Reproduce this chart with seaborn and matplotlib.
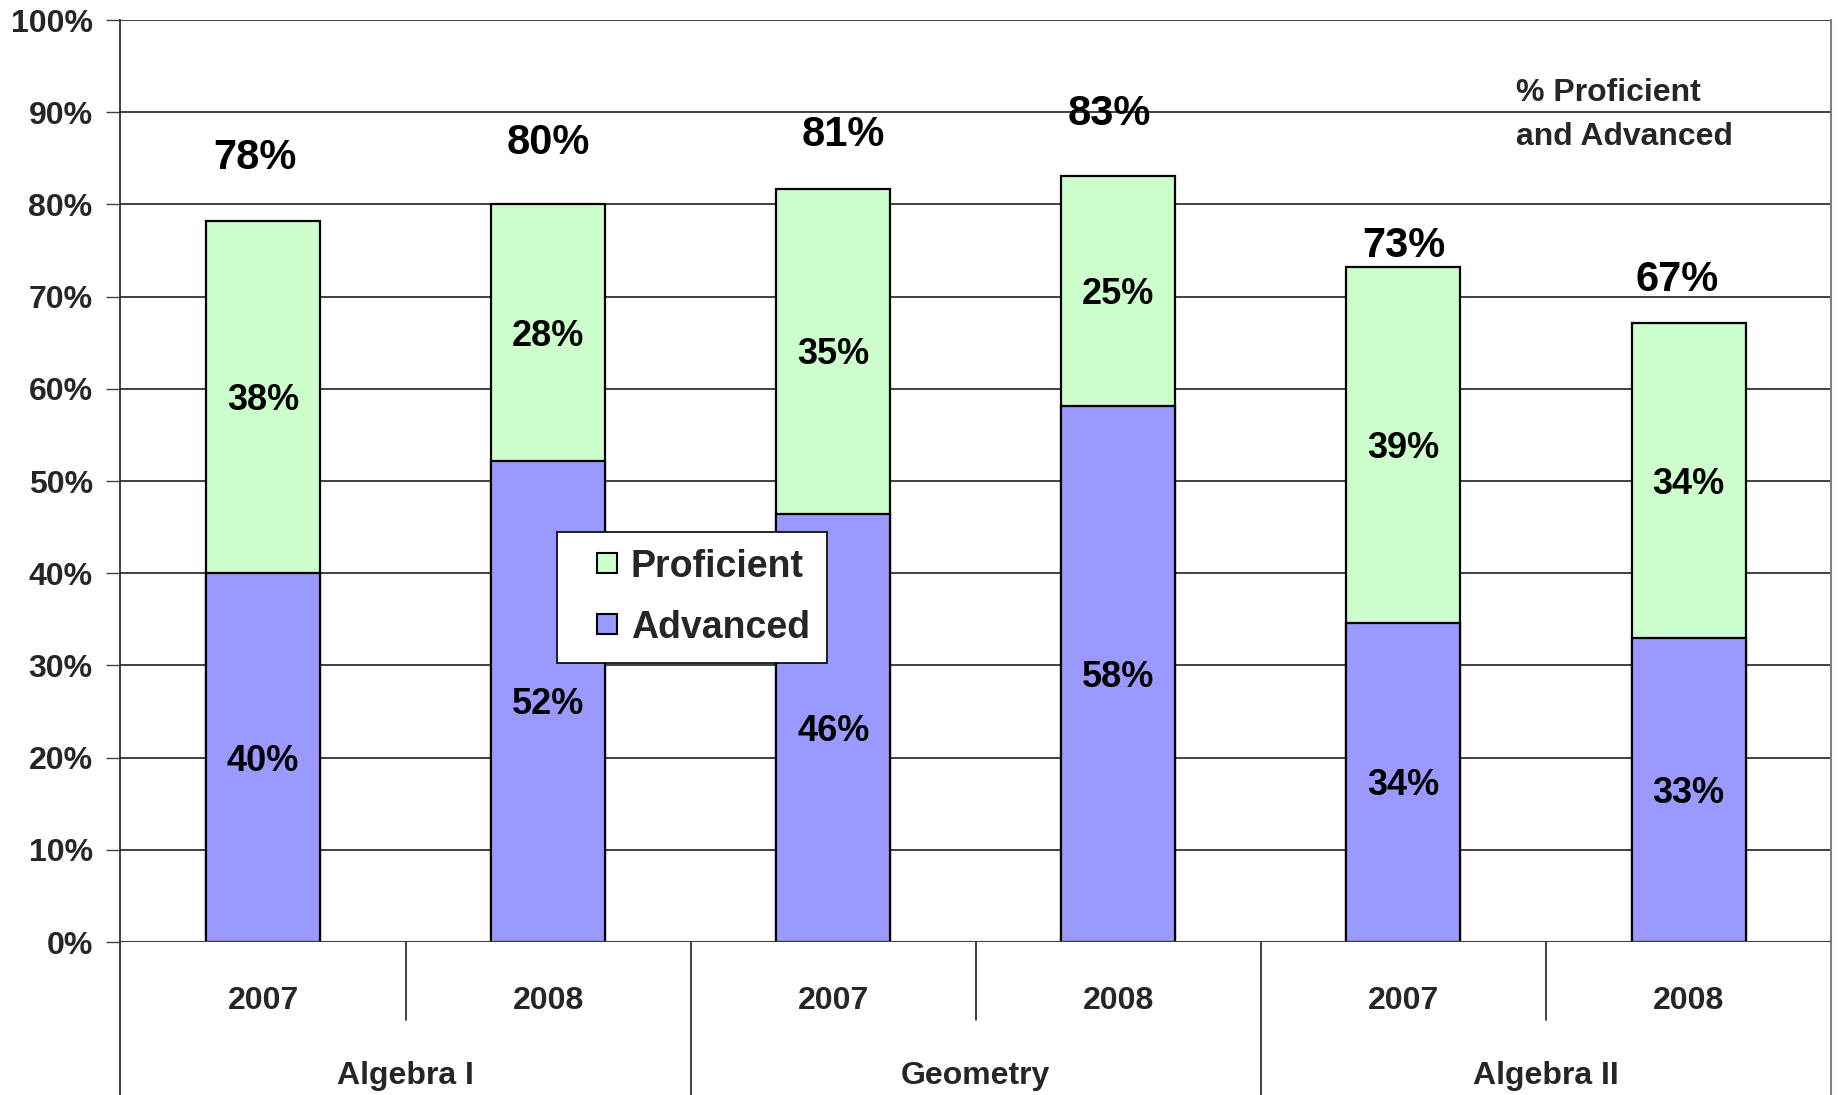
import numpy as np
import pandas as pd
import matplotlib
matplotlib.use("Agg")
import matplotlib.pyplot as plt
import seaborn as sns
from matplotlib.lines import Line2D

# ---- data ----
subjects = ["Algebra I", "Geometry", "Algebra II"]
years = ["2007", "2008"]
advanced = [40.0, 52.2, 46.4, 58.1, 34.6, 33.0]
proficient = [38.2, 27.8, 35.3, 25.0, 38.6, 34.1]
advanced_labels = ["40%", "52%", "46%", "58%", "34%", "33%"]
proficient_labels = ["38%", "28%", "35%", "25%", "39%", "34%"]
total_labels = ["78%", "80%", "81%", "83%", "73%", "67%"]
y_ticks = [0, 10, 20, 30, 40, 50, 60, 70, 80, 90, 100]
y_tick_labels = ["0%", "10%", "20%", "30%", "40%", "50%", "60%", "70%", "80%", "90%", "100%"]

# layout of the hand-placed total labels (data units)
total_label_y = [85.0, 86.7, 87.5, 89.8, 75.5, 71.8]
total_label_dx = [-0.03, 0.0, 0.035, -0.03, 0.0, -0.04]

PROF_COLOR = "#CCFFCC"
ADV_COLOR = "#9999FF"

keys = [f"{s} {y}" for s in subjects for y in years]
df = pd.DataFrame({
    "key": keys,
    "advanced": advanced,
    "proficient": proficient,
})
df["total"] = df["advanced"] + df["proficient"]

sns.set_theme(style="white")
plt.rcParams["font.family"] = ["Liberation Sans", "DejaVu Sans"]
plt.rcParams["font.weight"] = "bold"

fig = plt.figure(figsize=(18.39, 10.95), dpi=100)
ax = fig.add_axes([0.0655, 0.1397, 0.9957 - 0.0655, 0.9817 - 0.1397])

sns.barplot(data=df, x="key", y="total", order=keys, color=PROF_COLOR,
            width=0.4, edgecolor="black", linewidth=1.6, saturation=1, ax=ax, zorder=3)
sns.barplot(data=df, x="key", y="advanced", order=keys, color=ADV_COLOR,
            width=0.4, edgecolor="black", linewidth=1.6, saturation=1, ax=ax, zorder=3)

ax.set_xlim(-0.5, len(keys) - 0.5)
ax.set_ylim(0, 100)
ax.set_yticks(y_ticks)
ax.set_yticklabels(y_tick_labels, fontsize=23, fontweight="bold")
ax.tick_params(axis="y", direction="out", length=10, width=1, color="#404040", pad=10, left=True)
ax.set_xticks([])
ax.set_xlabel("")
ax.set_ylabel("")
ax.yaxis.grid(True, color="#202020", linewidth=1.2, zorder=0)
ax.set_axisbelow(True)

for side in ["top", "bottom"]:
    ax.spines[side].set_visible(False)
ax.spines["left"].set_color("#202020")
ax.spines["left"].set_linewidth(1.2)
ax.spines["right"].set_color("#808080")
ax.spines["right"].set_linewidth(1.5)
ax.axhline(0, color="#404040", linewidth=2.2, zorder=4)

# segment labels
for i in range(len(keys)):
    ax.annotate(advanced_labels[i], (i, advanced[i] / 2), xytext=(0, -2.5),
                textcoords="offset points", ha="center", va="center",
                fontsize=26, fontweight="bold", color="black", zorder=5)
    ax.annotate(proficient_labels[i], (i, advanced[i] + proficient[i] / 2), xytext=(0, -2.5),
                textcoords="offset points", ha="center", va="center",
                fontsize=26, fontweight="bold", color="black", zorder=5)
    ax.text(i + total_label_dx[i], total_label_y[i], total_labels[i], ha="center", va="center",
            fontsize=30, fontweight="bold", color="black", zorder=5)

# category axis below the plot
trans = ax.get_xaxis_transform()
axes_h_px = (0.9817 - 0.1397) * 1095
def frac(px_below):
    return -px_below / axes_h_px

for i, k in enumerate(keys):
    ax.text(i, frac(58.5), years[i % 2], transform=trans, ha="center", va="center",
            fontsize=23, fontweight="bold", clip_on=False)
for g, s in enumerate(subjects):
    ax.text(2 * g + 0.5, frac(133.5), s, transform=trans, ha="center", va="center",
            fontsize=23, fontweight="bold", clip_on=False)

for b in range(len(keys) + 1):
    xb = b - 0.5
    if b % 2 == 1:
        ax.add_line(Line2D([xb, xb], [0, frac(78)], transform=trans, color="#202020",
                           linewidth=1.2, clip_on=False))
    else:
        ax.add_line(Line2D([xb, xb], [0, frac(160)], transform=trans,
                           color="#808080" if b == len(keys) else "#202020",
                           linewidth=1.5 if b == len(keys) else 1.2, clip_on=False))

# annotation
ax.text((1516 - 120.5) / (1831 - 120.5), 0.897, "% Proficient\nand Advanced", transform=ax.transAxes,
        ha="left", va="center", fontsize=23, fontweight="bold", linespacing=1.65)

# legend
handles = [Line2D([], [], linestyle="None", marker="s", markersize=15,
                  markerfacecolor=PROF_COLOR, markeredgecolor="black", markeredgewidth=1.5,
                  label="Proficient"),
           Line2D([], [], linestyle="None", marker="s", markersize=15,
                  markerfacecolor=ADV_COLOR, markeredgecolor="black", markeredgewidth=1.5,
                  label="Advanced")]
leg = ax.legend(handles=handles, loc="upper left",
                bbox_to_anchor=((557 - 120.5) / (1831 - 120.5), 1 - (532 - 20) / 922),
                prop={"weight": "bold", "size": 27}, numpoints=1,
                frameon=True, fancybox=False, edgecolor="black", facecolor="white",
                framealpha=1, handlelength=1.76, handleheight=0.8, handletextpad=-0.24,
                labelspacing=0.66, borderpad=0.45, borderaxespad=0)
leg.get_frame().set_linewidth(1.2)
leg.set_zorder(10)

fig.savefig("out.png", dpi=100, facecolor="white")
